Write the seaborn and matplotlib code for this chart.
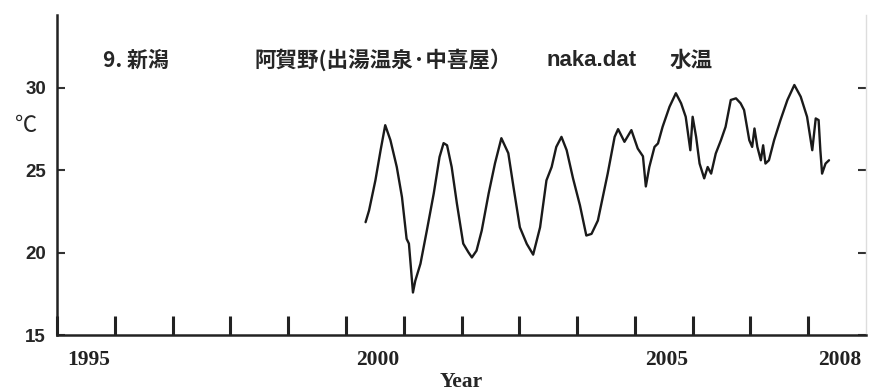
import numpy as np
import pandas as pd
import matplotlib
matplotlib.use("Agg")
import matplotlib.pyplot as plt
import seaborn as sns

# 水温データ
years = [2000.34, 2000.40, 2000.51, 2000.60, 2000.68, 2000.77, 2000.88, 2000.97,
         2001.05, 2001.09, 2001.16, 2001.20, 2001.29, 2001.40, 2001.52, 2001.62,
         2001.69, 2001.75, 2001.83, 2001.92, 2002.03, 2002.12, 2002.18, 2002.26,
         2002.35, 2002.47, 2002.58, 2002.69, 2002.81, 2002.90, 2003.01, 2003.13,
         2003.24, 2003.36, 2003.47, 2003.56, 2003.64, 2003.73, 2003.82, 2003.93,
         2004.05, 2004.16, 2004.25, 2004.36, 2004.53, 2004.65, 2004.71, 2004.82,
         2004.94, 2005.05, 2005.14, 2005.19, 2005.25, 2005.34, 2005.40, 2005.48,
         2005.60, 2005.71, 2005.80, 2005.88, 2005.96, 2006.00, 2006.06, 2006.12,
         2006.20, 2006.26, 2006.32, 2006.40, 2006.49, 2006.57, 2006.66, 2006.75,
         2006.83, 2006.89, 2006.98, 2007.03, 2007.07, 2007.12, 2007.18, 2007.22,
         2007.26, 2007.32, 2007.41, 2007.52, 2007.64, 2007.76, 2007.87, 2007.98,
         2008.07, 2008.13, 2008.18, 2008.21, 2008.24, 2008.30, 2008.36]
temps = [21.85, 22.56, 24.39, 26.22, 27.74, 26.83, 25.20, 23.37,
         20.84, 20.55, 17.58, 18.29, 19.33, 21.34, 23.60, 25.81,
         26.65, 26.52, 25.20, 22.99, 20.55, 20.02, 19.71, 20.12,
         21.34, 23.60, 25.43, 26.95, 26.04, 23.98, 21.54, 20.53,
         19.88, 21.54, 24.39, 25.20, 26.42, 27.03, 26.22, 24.51,
         22.87, 21.04, 21.14, 21.95, 24.80, 27.03, 27.50, 26.73,
         27.44, 26.32, 25.85, 24.02, 25.20, 26.42, 26.63, 27.64,
         28.86, 29.68, 29.07, 28.25, 26.22, 28.25, 27.03, 25.41,
         24.51, 25.20, 24.80, 26.02, 26.83, 27.64, 29.27, 29.37,
         29.07, 28.66, 26.83, 26.42, 27.54, 26.42, 25.61, 26.52,
         25.41, 25.61, 26.83, 28.05, 29.27, 30.18, 29.47, 28.25,
         26.22, 28.15, 28.05, 26.22, 24.80, 25.41, 25.61]

year_ticks = list(range(1995, 2009))
year_labels = ["1995", "2000", "2005", "2008"]
y_ticks = [15, 20, 25, 30]

df = pd.DataFrame({"year": years, "temp": temps})

sns.set_style("white")
plt.rcParams["font.family"] = ["Noto Sans CJK JP", "DejaVu Sans"]

fig = plt.figure(figsize=(8.69, 3.92), dpi=100)
ax = fig.add_axes([57 / 869, 57 / 392, 809 / 869, 320 / 392])

sns.lineplot(data=df, x="year", y="temp", ax=ax, color="#1a1a1a",
             linewidth=1.7, estimator=None, sort=False)

ax.set_xlim(1995, 2009)
ax.set_ylim(15, 34.43)

# 年の区切り（上向きの目盛り）
ax.set_xticks(year_ticks, minor=True)
ax.set_xticks([int(s) + 0.55 for s in year_labels])
ax.set_xticklabels(year_labels, family="Liberation Serif",
                   fontweight="bold", fontsize=15.5)
ax.tick_params(axis="x", which="major", length=0, pad=11, colors="#222222")
ax.tick_params(axis="x", which="minor", direction="in", length=14,
               width=2.2, color="#222222", bottom=True)

ax.set_yticks(y_ticks)
ax.set_yticklabels([str(v) for v in y_ticks], family="Liberation Sans",
                   fontweight="bold", fontsize=13.5)
ax.tick_params(axis="y", which="major", direction="in", length=6, width=1.5,
               color="#333333", left=True, right=True, pad=8)

for side in ["left", "bottom"]:
    ax.spines[side].set_color("#222222")
    ax.spines[side].set_linewidth(1.8)
ax.spines["top"].set_visible(False)
ax.spines["right"].set_color("#dddddd")
ax.spines["right"].set_linewidth(1.0)

ax.set_xlabel("Year", family="Liberation Serif", fontweight="bold",
              fontsize=15.5, labelpad=1)
ax.set_ylabel("")
fig.text(26 / 869, 1 - 125 / 392, "℃", fontsize=16, ha="center",
         va="center", family=["Noto Sans CJK JP", "DejaVu Sans"])

# 見出し
fig.text(103 / 869, 1 - 60 / 392, "9. 新潟", fontsize=15, fontweight="bold",
         va="center", family=["Noto Sans CJK JP", "DejaVu Sans"])
fig.text(254 / 869, 1 - 60 / 392, "阿賀野(出湯温泉·中喜屋）", fontsize=15.5,
         fontweight="bold", va="center",
         family=["Noto Sans CJK JP", "DejaVu Sans"])
fig.text(546 / 869, 1 - 60 / 392, "naka.dat", fontsize=16, fontweight="bold",
         va="center", family=["Liberation Sans", "DejaVu Sans"])
fig.text(670 / 869, 1 - 60 / 392, "水温", fontsize=15.5, fontweight="bold",
         va="center", family=["Noto Sans CJK JP", "DejaVu Sans"])

fig.savefig("out.png", dpi=100)
